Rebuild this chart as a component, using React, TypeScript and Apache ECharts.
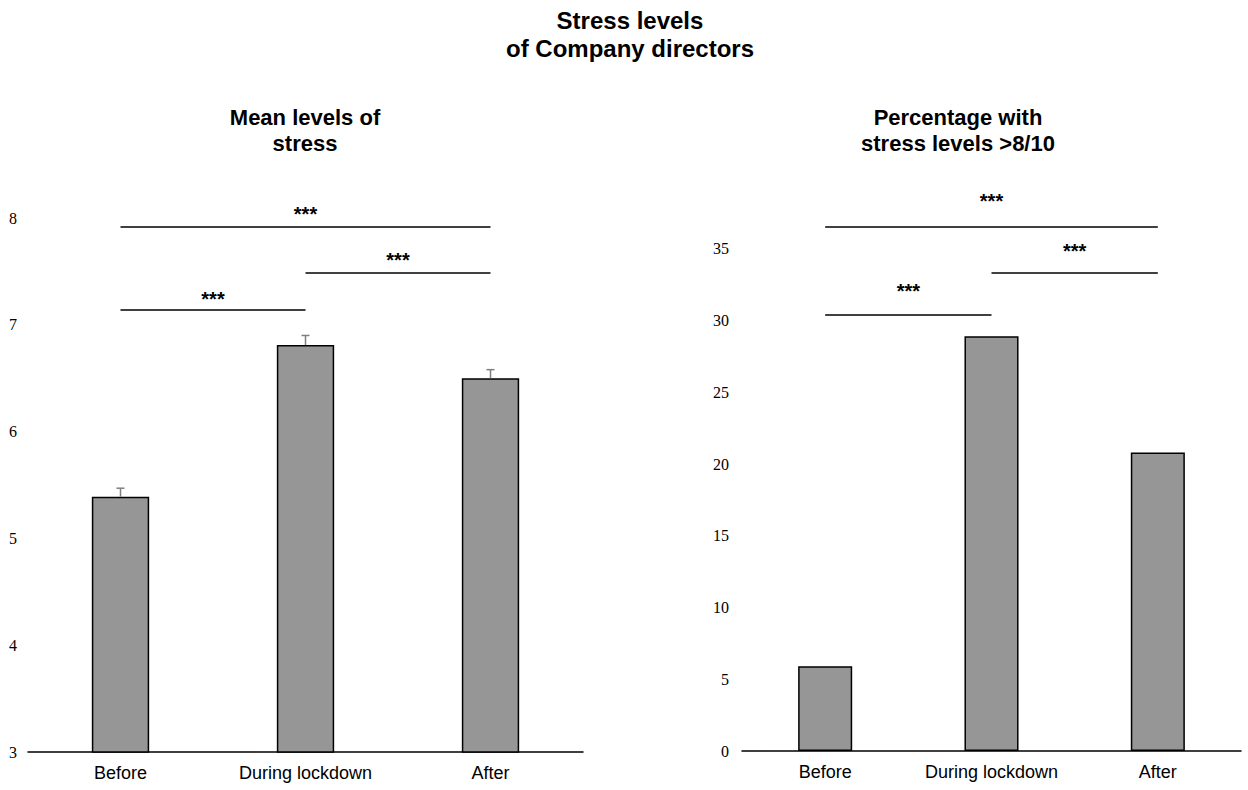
import React, { useEffect, useRef } from "react";
import * as echarts from "echarts";

const categories = ["Before", "During lockdown", "After"];

// Left panel: mean stress levels with SE
const meanStress = [5.39, 6.81, 6.5];
const meanStressErr = [0.08, 0.09, 0.08];
const leftTicks = { min: 3, max: 8, interval: 1 };

// Right panel: percentage with stress > 8/10
const pctHighStress = [5.9, 28.9, 20.8];
const rightTicks = { min: 0, max: 40, interval: 5, lastLabel: 35 };

// Significance brackets: [from category, to category, level, label]
const leftSig: [string, string, number, string][] = [
  ["Before", "After", 7.92, "***"],
  ["During lockdown", "After", 7.49, "***"],
  ["Before", "During lockdown", 7.14, "***"],
];
const rightSig: [string, string, number, string][] = [
  ["Before", "After", 36.5, "***"],
  ["During lockdown", "After", 33.3, "***"],
  ["Before", "During lockdown", 30.4, "***"],
];
const leftSigGap = [3, 2, 1];
const rightSigGap = [16, 12, 14];

const mainTitle = "Stress levels\nof Company directors";
const leftTitle = "Mean levels of\nstress";
const rightTitle = "Percentage with\nstress levels >8/10";

const SANS = "'Liberation Sans', Arial, sans-serif";
const SERIF = "'Liberation Serif', 'Times New Roman', serif";

function sigMarkLine(sig: [string, string, number, string][], gaps: number[]) {
  return {
    silent: true,
    symbol: ["none", "none"],
    lineStyle: { color: "#000", width: 1.5, type: "solid" },
    emphasis: { disabled: true },
    label: {
      show: true,
      position: "middle",
      color: "#000",
      fontFamily: SANS,
      fontWeight: "bold",
      fontSize: 20,
    },
    data: sig.map(([a, b, y, t], i) => [
      {
        coord: [a, y],
        label: { formatter: t, distance: gaps[i] },
      },
      { coord: [b, y], label: { formatter: t, distance: gaps[i] } },
    ]),
  };
}

function errorRender(params: any, api: any) {
  const x = api.value(0);
  const v = api.value(1);
  const e = api.value(2);
  const base = api.coord([x, v]);
  const top = api.coord([x, v + e]);
  const style = { stroke: "#7f7f7f", lineWidth: 1.5 };
  return {
    type: "group",
    children: [
      { type: "line", shape: { x1: base[0], y1: base[1], x2: top[0], y2: top[1] }, style },
      { type: "line", shape: { x1: top[0] - 4, y1: top[1], x2: top[0] + 4, y2: top[1] }, style },
    ],
  };
}

export default function App() {
  const ref = useRef<HTMLDivElement>(null);
  useEffect(() => {
    if (!ref.current) return;
    const chart = echarts.init(ref.current, undefined, { renderer: "svg" });
    const xAxisBase = {
      type: "category",
      data: categories,
      axisLine: { show: true, lineStyle: { color: "#000", width: 1.5 } },
      axisTick: { show: false },
      axisLabel: { color: "#000", fontFamily: SANS, fontSize: 18, margin: 12, interval: 0 },
      splitLine: { show: false },
    };
    const yLabel = { color: "#000", fontFamily: SERIF, fontSize: 16 };
    const titleStyle = (text: string, x: number, y: number, size: number, lh: number) => ({
      type: "text",
      x,
      y,
      style: {
        text,
        fill: "#000",
        fontFamily: SANS,
        fontWeight: "bold",
        fontSize: size,
        lineHeight: lh,
        align: "center",
        textAlign: "center",
        verticalAlign: "top",
        textVerticalAlign: "top",
      },
    });
    chart.setOption({
      animation: false,
      backgroundColor: "#fff",
      graphic: [
        titleStyle(mainTitle, 630, 6, 24, 28),
        titleStyle(leftTitle, 305, 104, 22, 26),
        titleStyle(rightTitle, 958, 104, 22, 26),
      ],
      grid: [
        { left: 28, top: 218, width: 555, height: 534 },
        { left: 742, top: 177, width: 499, height: 574 },
      ],
      xAxis: [
        { ...xAxisBase, gridIndex: 0 },
        { ...xAxisBase, gridIndex: 1 },
      ],
      yAxis: [
        {
          type: "value",
          gridIndex: 0,
          min: leftTicks.min,
          max: leftTicks.max,
          interval: leftTicks.interval,
          axisLine: { show: false },
          axisTick: { show: false },
          splitLine: { show: false },
          axisLabel: { ...yLabel, margin: 11 },
        },
        {
          type: "value",
          gridIndex: 1,
          min: rightTicks.min,
          max: rightTicks.max,
          interval: rightTicks.interval,
          axisLine: { show: false },
          axisTick: { show: false },
          splitLine: { show: false },
          axisLabel: {
            ...yLabel,
            margin: 13,
            formatter: (v: number) => (v > rightTicks.lastLabel ? "" : String(v)),
          },
        },
      ],
      series: [
        {
          type: "bar",
          xAxisIndex: 0,
          yAxisIndex: 0,
          data: meanStress,
          barWidth: "31%",
          itemStyle: { color: "#969696", borderColor: "#000", borderWidth: 1.5 },
          markLine: sigMarkLine(leftSig, leftSigGap),
          z: 2,
        },
        {
          type: "custom",
          xAxisIndex: 0,
          yAxisIndex: 0,
          data: meanStress.map((v, i) => [i, v, meanStressErr[i]]),
          encode: { x: 0, y: 1 },
          renderItem: errorRender,
          z: 3,
          silent: true,
        },
        {
          type: "bar",
          xAxisIndex: 1,
          yAxisIndex: 1,
          data: pctHighStress,
          barWidth: "32.5%",
          itemStyle: { color: "#969696", borderColor: "#000", borderWidth: 1.5 },
          markLine: sigMarkLine(rightSig, rightSigGap),
          z: 2,
        },
      ],
    });
    return () => chart.dispose();
  }, []);
  return (
    <div
      ref={ref}
      style={{ position: "fixed", left: 0, top: 0, width: 1248, height: 790, background: "#fff" }}
    />
  );
}
